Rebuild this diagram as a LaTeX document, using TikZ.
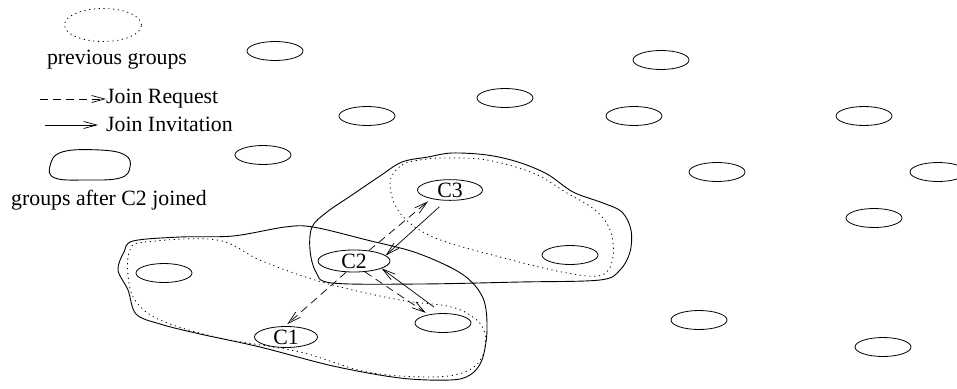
\documentclass[tikz,border=0pt]{standalone}
\usepackage{fontspec}
\setmainfont{Liberation Serif}
\usetikzlibrary{positioning,shapes.geometric,arrows.meta}

\begin{document}
\begin{tikzpicture}[
  x=1pt, y=-1pt,
  font=\fontsize{21.8}{24}\selectfont,
  grp/.style={draw, ellipse, line width=0.8pt, minimum width=56pt, minimum height=19pt, inner sep=0pt},
  old/.style={line width=0.8pt, dash pattern=on 1.2pt off 3.6pt},
  new/.style={line width=0.9pt},
  req/.style={-{Straight Barb[length=13pt,width=7pt]}, line width=0.7pt, dash pattern=on 8pt off 5pt},
  inv/.style={-{Straight Barb[length=13pt,width=7pt]}, line width=0.7pt},
]
\useasboundingbox (0,0) rectangle (957,388);

% legend
\node[grp, old, minimum width=77pt, minimum height=33pt] (lprev) at (103,25) {};
\node (tprev) at (117,60) {previous groups};
\coordinate (rq0) at (40,99);
\node[anchor=west, inner sep=0pt] (trq) at (106,99) {Join Request};
\draw[req] (rq0) -- (trq.west);
\coordinate (iv0) at (45,125);
\node[anchor=west, inner sep=0pt] (tiv) at (106,124) {Join Invitation};
\draw[inv, shorten >=8pt] (iv0) -- (iv0 -| tiv.west);
\draw[new] plot[smooth cycle, tension=0.7] coordinates {
  (62,152) (100,150) (125,155) (130,167) (120,178) (85,180) (55,178) (50,166)};
\node (tnew) at (109,200) {groups after C2 joined};

% groups
\node[grp] (g1) at (275,51) {};
\node[grp] (g2) at (661,60) {};
\node[grp] (g3) at (505,98) {};
\node[grp] (g4) at (367,116) {};
\node[grp] (g5) at (634,116) {};
\node[grp] (g6) at (864,116) {};
\node[grp] (g7) at (263,155) {};
\node[grp] (g8) at (717,172) {};
\node[grp] (g9) at (938,172) {};
\node[grp] (g10) at (874,218) {};
\node[grp] (g11) at (164,273) {};
\node[grp] (g12) at (570,255) {};
\node[grp] (g13) at (443,323) {};
\node[grp] (g14) at (699,320) {};
\node[grp] (g15) at (883,347) {};
\node[grp, minimum width=65pt, minimum height=20pt] (c3) at (450,190) {C3};
\node[grp, minimum width=72pt, minimum height=22pt] (c2) at (354,261) {C2};
\node[grp, minimum width=63pt, minimum height=21pt] (c1) at (286,337) {C1};

% previous groups
\draw[old] plot[smooth cycle, tension=0.6] coordinates {
  (390,183) (402,165) (427,159) (450,158) (487,160) (533,173) (567,193)
  (595,210) (610,230) (613,257) (602,275) (567,273) (500,257) (433,237) (400,213)};
\draw[old] plot[smooth cycle, tension=0.6] coordinates {
  (130,250) (145,242) (217,240) (262,261) (325,283) (400,300) (447,306)
  (470,315) (484,330) (483,355) (467,371) (433,377) (367,372) (300,352)
  (220,338) (160,320) (135,300) (128,275)};

% groups after C2 joined
\draw[new] plot[smooth cycle, tension=0.55] coordinates {
  (312,227) (327,212) (352,195) (380,176) (402,162) (428,157) (452,153)
  (487,155) (518,162) (547,174) (573,192) (603,203) (622,212) (631,230)
  (630,252) (620,270) (600,280) (520,282) (420,284) (332,283) (316,272) (310,250)};
\draw[new] plot[smooth cycle, tension=0.55] coordinates {
  (133,241) (180,237) (233,236) (285,227) (313,227) (367,240) (417,253)
  (462,274) (483,298) (487,330) (482,360) (470,375) (450,380) (400,378)
  (333,366) (260,347) (200,334) (160,324) (136,314) (128,290) (118,270) (124,252)};

% requests and invitations
\draw[req, shorten >=4pt] (c2.35) -- (c3.205);
\draw[inv, shorten <=9pt] (c3.250) -- (c2.10);
\draw[req, shorten >=3pt] (c2.235) -- (c1.95);
\draw[req, shorten >=3pt] (c2.315) -- (g13.150);
\draw[inv, shorten <=10pt] (g13.95) -- (c2.345);
\end{tikzpicture}
\end{document}
